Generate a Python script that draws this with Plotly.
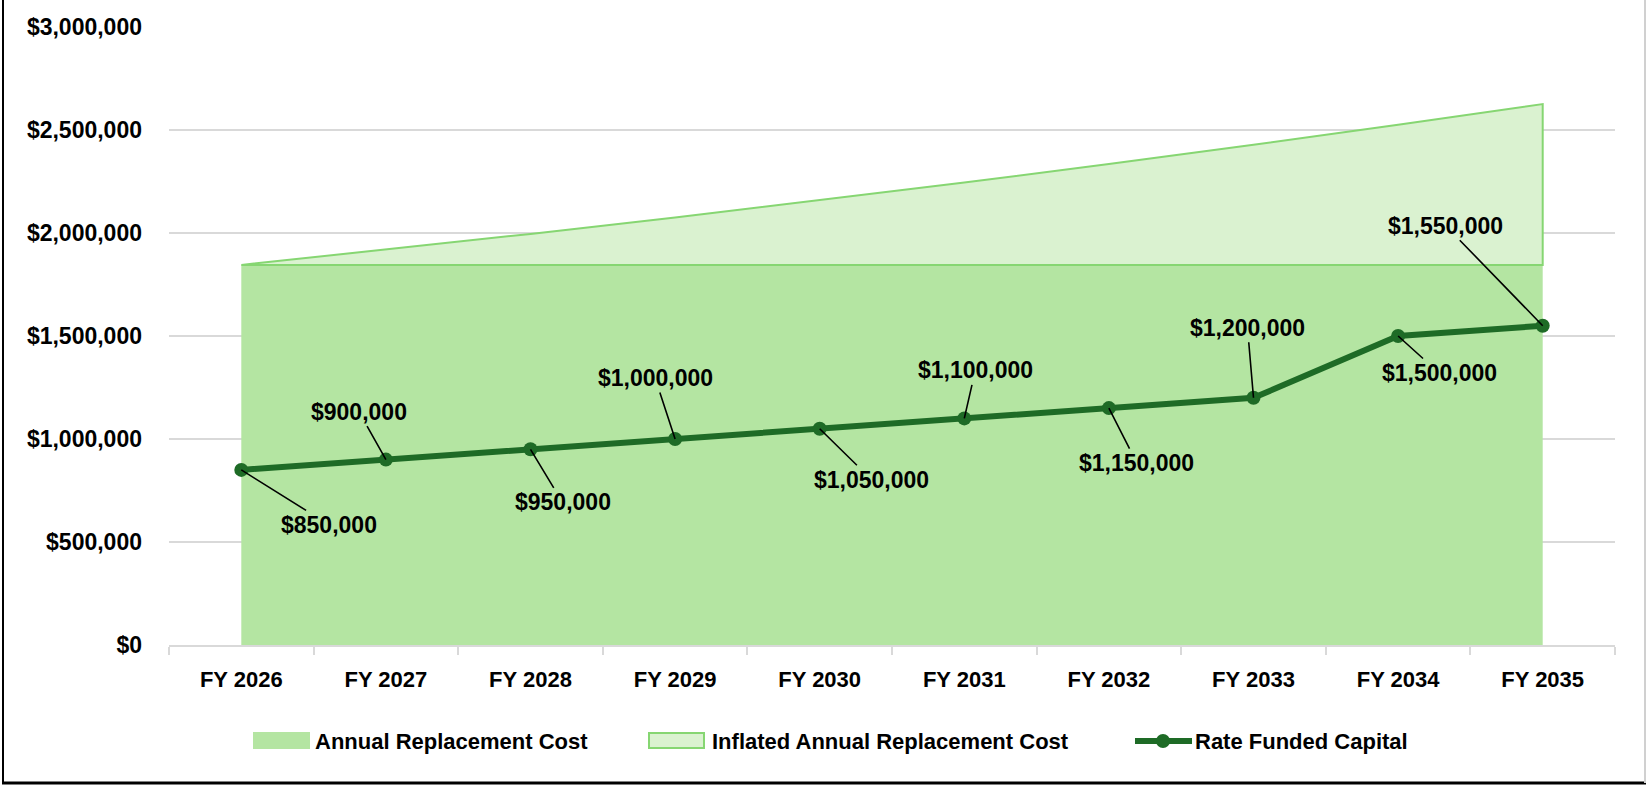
import plotly.graph_objects as go

categories = ["FY 2026", "FY 2027", "FY 2028", "FY 2029", "FY 2030",
              "FY 2031", "FY 2032", "FY 2033", "FY 2034", "FY 2035"]
annual_cost = [1845000] * 10
inflated_cost = [1845000, 1918800, 1995550, 2075370, 2158390,
                 2244720, 2334510, 2427890, 2525010, 2626010]
rate_funded = [850000, 900000, 950000, 1000000, 1050000,
               1100000, 1150000, 1200000, 1500000, 1550000]
y_ticks = [0, 500000, 1000000, 1500000, 2000000, 2500000, 3000000]
series_names = ["Annual Replacement Cost", "Inflated Annual Replacement Cost",
                "Rate Funded Capital"]

# label offsets (pixels) for the data-label callouts
label_dx = [88, -27, 32, -20, 52, 11, 28, -6, 41, -97]
label_dy = [55, -48, 53, -61, 51, -48, 55, -70, 37, -100]

FONT = "Arial, Liberation Sans, sans-serif"
C_ANNUAL = "#B4E5A2"
C_INFL = "#DAF2D0"
C_INFL_LINE = "#86D672"
C_RATE = "#1E6B26"

fig = go.Figure()

fig.add_trace(go.Scatter(
    x=categories, y=annual_cost, name=series_names[0],
    mode="none", fill="tozeroy", fillcolor=C_ANNUAL, showlegend=False,
))
fig.add_trace(go.Scatter(
    x=categories + categories[::-1],
    y=inflated_cost + annual_cost[::-1],
    name=series_names[1],
    mode="lines", fill="toself", fillcolor=C_INFL,
    line=dict(color=C_INFL_LINE, width=2), showlegend=False,
))
fig.add_trace(go.Scatter(
    x=categories, y=rate_funded, name=series_names[2],
    mode="lines+markers",
    line=dict(color=C_RATE, width=6),
    marker=dict(color=C_RATE, size=14), showlegend=False,
))

for c, v, dx, dy in zip(categories, rate_funded, label_dx, label_dy):
    fig.add_annotation(
        x=c, y=v, text=f"${v:,.0f}", showarrow=True, arrowhead=0,
        arrowwidth=1.6, arrowcolor="black", ax=dx, ay=dy, standoff=0,
        font=dict(family=FONT, size=23, color="black", weight="bold"),
    )

W, H = 1647, 786
L, R, T, B = 169, 32, 27, 141
pw, ph = W - L - R, H - T - B
fx = lambda px: (px - L) / pw
fy = lambda py: (H - B - py) / ph

# outer frame (left, bottom dark; right light)
fig.add_shape(type="line", xref="paper", yref="paper",
              x0=fx(3), x1=fx(3), y0=fy(0), y1=fy(783),
              line=dict(color="black", width=2))
fig.add_shape(type="line", xref="paper", yref="paper",
              x0=fx(2), x1=fx(1646), y0=fy(783), y1=fy(783),
              line=dict(color="black", width=3))
fig.add_shape(type="line", xref="paper", yref="paper",
              x0=fx(1645), x1=fx(1645), y0=fy(0), y1=fy(783),
              line=dict(color="#D0D0D0", width=2))

# legend (drawn manually to get Excel-style swatches)
LEG_Y = 741
fig.add_shape(type="rect", xref="paper", yref="paper",
              x0=fx(253), x1=fx(310), y0=fy(732), y1=fy(749),
              fillcolor=C_ANNUAL, line=dict(width=0))
fig.add_shape(type="rect", xref="paper", yref="paper",
              x0=fx(649), x1=fx(704), y0=fy(733), y1=fy(748),
              fillcolor=C_INFL, line=dict(color=C_INFL_LINE, width=2))
fig.add_shape(type="line", xref="paper", yref="paper",
              x0=fx(1135), x1=fx(1192), y0=fy(LEG_Y), y1=fy(LEG_Y),
              line=dict(color=C_RATE, width=6))
fig.add_shape(type="circle", xref="paper", yref="paper",
              x0=fx(1156), x1=fx(1170), y0=fy(LEG_Y - 7), y1=fy(LEG_Y + 7),
              fillcolor=C_RATE, line=dict(width=0))
for name, tx in zip(series_names, [314, 711, 1194]):
    fig.add_annotation(
        xref="paper", yref="paper", x=fx(tx), y=fy(LEG_Y),
        xanchor="left", yanchor="middle", showarrow=False, text=name,
        borderpad=0,
        font=dict(family=FONT, size=22, color="black", weight="bold"),
    )

fig.update_layout(
    width=W, height=H,
    margin=dict(l=L, r=R, t=T, b=B),
    paper_bgcolor="white", plot_bgcolor="white",
    font=dict(family=FONT, size=22, color="black", weight="bold"),
    showlegend=False,
    xaxis=dict(type="category", range=[-0.5, 9.5], showgrid=False,
               showline=True, linecolor="#D9D9D9", linewidth=2,
               ticks="outside", tickson="boundaries", ticklen=8,
               tickcolor="#D9D9D9", tickwidth=2,
               tickfont=dict(family=FONT, size=22, color="black", weight="bold"),
               ticklabelstandoff=14),
    yaxis=dict(range=[0, 3000000], tickvals=y_ticks,
               ticktext=[f"${v:,.0f}" for v in y_ticks],
               showgrid=True, gridcolor="#D9D9D9", gridwidth=2,
               zeroline=False, showline=False, ticks="",
               ticklabelstandoff=26,
               tickfont=dict(family=FONT, size=23, color="black", weight="bold")),
)

fig.write_html(
    "out.html",
    config={"displayModeBar": False},
    post_script="document.body.style.margin='0';document.body.style.overflow='hidden';",
)
